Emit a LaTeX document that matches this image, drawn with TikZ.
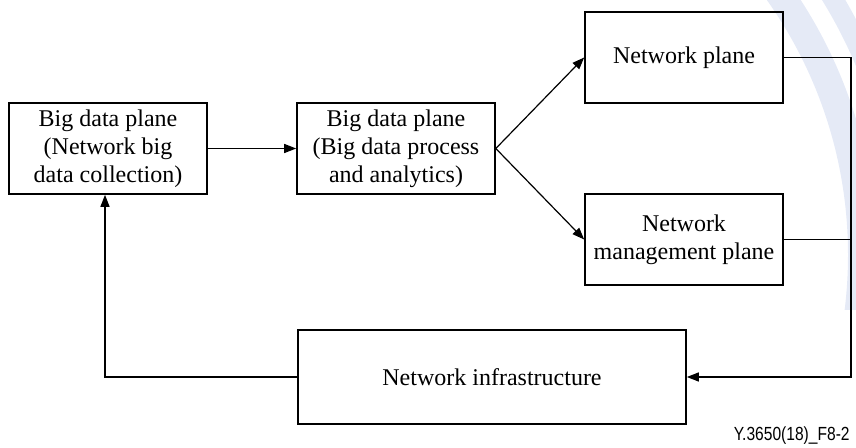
\documentclass[tikz,border=0pt]{standalone}
\usepackage{fontspec}
\setmainfont{Liberation Serif}
\newfontfamily\figfont[FakeStretch=0.82]{Liberation Sans}
\usetikzlibrary{positioning, arrows.meta}

\definecolor{wmark}{RGB}{229,234,246}

\tikzset{
  plane/.style={rectangle, draw, line width=0.8pt,
    minimum width=99pt, minimum height=45.5pt,
    align=center, inner sep=1pt,
    font=\fontsize{12}{14}\selectfont},
  link/.style={line width=0.6pt},
  flow/.style={link, -{Triangle[length=6pt, width=4.5pt]}}
}

\begin{document}
\begin{tikzpicture}[x=0.5pt, y=-0.5pt]

    \useasboundingbox (0,0) rectangle (856,448);

    % faint watermark in the corner
    \begin{scope}
      \clip (700,0) rectangle (856,310);
      \draw[wmark, line width=14pt] (407,255) circle (455);
      \draw[wmark, line width=10pt] (407,255) circle (497);
    \end{scope}

    \node[plane] (collect) at (108,148.5) {Big data plane\\(Network big\\data collection)};

    \node[plane] (analyse) at (396,148.5) {Big data plane\\(Big data process\\and analytics)};

    \node[plane] (netplane) at (684,57.5) {Network plane};

    \node[plane] (mgmt) at (684,239.5) {Network\\management plane};

    \node[plane,
      minimum width=194pt,
      minimum height=47pt] (infra) at (492,377) {Network infrastructure};

    \coordinate (bus) at (851,57.5);
    \coordinate (corner) at (105,377);

    \draw[flow] (collect)--(analyse);
    \draw[flow] (analyse.east)--(netplane.west);
    \draw[flow] (analyse.east)--(mgmt.west);

    \draw[flow] (netplane.east)--(bus)|-(infra.east);
    \draw[link] (mgmt.east)--(mgmt.east -| bus);

    \draw[flow] (infra.west)--(corner)--(corner |- collect.south);

    \node[anchor=base east, inner sep=0pt,
      font=\figfont\fontsize{9.5}{11}\selectfont] (tag) at (850,440) {Y.3650(18)\_F8-2};
\end{tikzpicture}
\end{document}
